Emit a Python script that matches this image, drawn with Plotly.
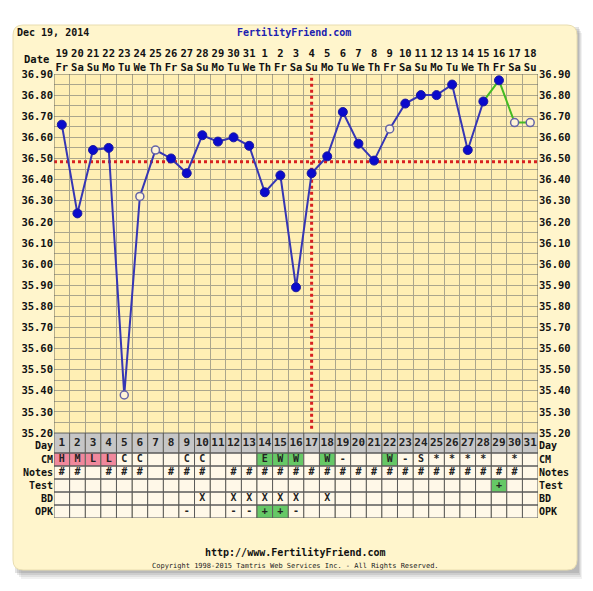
import plotly.graph_objects as go

# ---------------- data ----------------
dates = ["19", "20", "21", "22", "23", "24", "25", "26", "27", "28", "29", "30", "31",
         "1", "2", "3", "4", "5", "6", "7", "8", "9", "10", "11", "12", "13", "14", "15", "16", "17", "18"]
weekdays = ["Fr", "Sa", "Su", "Mo", "Tu", "We", "Th"] * 4 + ["Fr", "Sa", "Su"]
cycle_days = list(range(1, 32))
temps = [36.66, 36.24, 36.54, 36.55, 35.38, 36.32, 36.54, 36.50, 36.43, 36.61,
         36.58, 36.60, 36.56, 36.34, 36.42, 35.89, 36.43, 36.51, 36.72, 36.57,
         36.49, 36.64, 36.76, 36.80, 36.80, 36.85, 36.54, 36.77, 36.87, 36.67, 36.67]
hollow_days = [5, 6, 7, 22, 30, 31]
last_charted_day = 28
coverline = 36.485
ovulation_day = 17

cm = ["H", "M", "L", "L", "C", "C", "", "", "C", "C", "", "", "", "E", "W", "W",
      "", "W", "-", "", "", "W", "-", "S", "*", "*", "*", "*", "", "*", ""]
notes = ["#", "#", "", "#", "#", "#", "", "#", "#", "#", "", "#", "#", "#", "#", "#",
         "#", "#", "#", "#", "#", "#", "#", "#", "#", "#", "#", "#", "#", "#", ""]
test = [""] * 28 + ["+", "", ""]
bd = ["", "", "", "", "", "", "", "", "", "X", "", "X", "X", "X", "X", "X",
      "", "X", "", "", "", "", "", "", "", "", "", "", "", "", ""]
opk = ["", "", "", "", "", "", "", "", "-", "", "", "-", "-", "+", "+", "-",
       "", "", "", "", "", "", "", "", "", "", "", "", "", "", ""]
row_names = ["Day", "CM", "Notes", "Test", "BD", "OPK"]
row_values = [[str(d) for d in cycle_days], cm, notes, test, bd, opk]
temp_ticks = [round(35.2 + 0.1 * i, 2) for i in range(18)]

# ---------------- styles ----------------
OFF = 8  # page body margin
W, H = 585, 583
L, R, T, B = 46, 55, 66, 73
PW, PH = W - L - R, H - T - B
row_heights = [20, 13, 13, 13, 13, 13]
table_h = sum(row_heights)
split = table_h / PH
MONO = "DejaVu Sans Mono"
BOX = "#FFF5CC"
PLOTBG = "#FFEFB4"
GRID = "#ABA68C"
BORDER = "#5A5A5A"
CREAM = "#FFF8E8"
DAYBG = "#C6C6C6"
PINK = "#F0889C"
GREEN = "#66C866"
BLUE = "#0A0ACC"
LINEBLUE = "#3636B4"
RED = "#D82020"


def px_x(px):
    return (px - OFF - L) / PW


def px_y(py):
    return (H - B - (py - OFF)) / PH


# row boundaries in y2 units (top to bottom)
bounds = []
top = table_h
for h in row_heights:
    bounds.append((top - h, top))
    top -= h
centers = [(a + b) / 2 for a, b in bounds]
label_pos = [centers[0] - 2.5] + centers[1:]

fig = go.Figure()
shapes = []

# shadow + rounded box
for off, op in [(8, 0.08), (6, 0.10), (4, 0.13), (2, 0.16)]:
    x0, x1 = px_x(13 + off), px_x(578 + off / 2)
    y0, y1 = px_y(571 + off), px_y(25 + off)
    shapes.append(dict(type="rect", xref="paper", yref="paper", x0=x0, x1=x1, y0=y0, y1=y1,
                       fillcolor=f"rgba(80,80,80,{op})", line=dict(width=0), layer="below"))
x0, x1 = px_x(13), px_x(577)
y0, y1 = px_y(570), px_y(25)
rx, ry = 10 / PW, 10 / PH
path = (f"M {x0+rx},{y1} L {x1-rx},{y1} Q {x1},{y1} {x1},{y1-ry} L {x1},{y0+ry} "
        f"Q {x1},{y0} {x1-rx},{y0} L {x0+rx},{y0} Q {x0},{y0} {x0},{y0+ry} "
        f"L {x0},{y1-ry} Q {x0},{y1} {x0+rx},{y1} Z")
shapes.append(dict(type="path", xref="paper", yref="paper", path=path,
                   fillcolor=BOX, line=dict(color="#E8DDB0", width=1), layer="below"))

# temperature plot background
shapes.append(dict(type="rect", xref="x", yref="y", x0=0.5, x1=31.5, y0=35.2, y1=36.9,
                   fillcolor=PLOTBG, line=dict(width=0), layer="below"))

# table cells
for r, (name, vals) in enumerate(zip(row_names, row_values)):
    ya, yb = bounds[r]
    for d, v in zip(cycle_days, vals):
        if name == "Day":
            col = DAYBG
        elif name == "CM" and v in ("H", "M", "L"):
            col = PINK
        elif name == "CM" and v in ("E", "W"):
            col = GREEN
        elif name in ("Test", "OPK") and v == "+":
            col = GREEN
        else:
            col = CREAM
        shapes.append(dict(type="rect", xref="x", yref="y2", x0=d - 0.5, x1=d + 0.5,
                           y0=ya, y1=yb, fillcolor=col, line=dict(width=0), layer="below"))
# table borders
for d in range(0, 32):
    shapes.append(dict(type="line", xref="x", yref="y2", x0=d + 0.5, x1=d + 0.5,
                       y0=0, y1=table_h, line=dict(color=BORDER, width=1), layer="above"))
for ya, yb in bounds:
    for yy in (ya, yb):
        shapes.append(dict(type="line", xref="x", yref="y2", x0=0.5, x1=31.5,
                           y0=yy, y1=yy, line=dict(color=BORDER, width=1), layer="above"))
# temperature frame
shapes.append(dict(type="rect", xref="x", yref="y", x0=0.5, x1=31.5, y0=35.2, y1=36.9,
                   line=dict(color="#6A6A60", width=1), layer="above"))

# coverline / ovulation line
fig.add_trace(go.Scatter(x=[0.5, 31.5], y=[coverline, coverline], mode="lines",
                         line=dict(color=RED, width=3, dash="dot"), hoverinfo="skip",
                         xaxis="x", yaxis="y"))
fig.add_trace(go.Scatter(x=[ovulation_day, ovulation_day], y=[35.22, 36.9], mode="lines",
                         line=dict(color=RED, width=3, dash="dot"), hoverinfo="skip",
                         xaxis="x", yaxis="y"))

# temperature lines
n = last_charted_day
fig.add_trace(go.Scatter(x=cycle_days[n - 1:], y=temps[n - 1:], mode="lines",
                         line=dict(color="#44BB22", width=2), xaxis="x", yaxis="y"))
fig.add_trace(go.Scatter(x=cycle_days[:n], y=temps[:n], mode="lines",
                         line=dict(color=LINEBLUE, width=2), xaxis="x", yaxis="y"))
filled = [d for d in cycle_days if d not in hollow_days]
fig.add_trace(go.Scatter(x=filled, y=[temps[d - 1] for d in filled], mode="markers",
                         marker=dict(color=BLUE, size=9, line=dict(color="#1A1AA0", width=1)),
                         xaxis="x", yaxis="y"))
fig.add_trace(go.Scatter(x=hollow_days, y=[temps[d - 1] for d in hollow_days], mode="markers",
                         marker=dict(color="#FFF4D8", size=8, line=dict(color="#6464A8", width=1.5)),
                         xaxis="x", yaxis="y"))

# table text
for r, (name, vals) in enumerate(zip(row_names, row_values)):
    fig.add_trace(go.Scatter(x=cycle_days, y=[centers[r]] * 31, mode="text", text=vals,
                             textposition="middle center",
                             textfont=dict(family=MONO, size=11 if name == "Day" else 10,
                                           color="#222222", weight="bold"),
                             xaxis="x", yaxis="y2", hoverinfo="skip"))

tickfont = dict(family=MONO, size=10.5, color="#111111", weight="bold")
rowfont = dict(family=MONO, size=10, color="#111111", weight="bold")
hdrfont = dict(family=MONO, size=10, color="#111111", weight="bold")
annotations = [
    dict(text="Dec 19, 2014", x=px_x(15), y=px_y(33), xref="paper", yref="paper",
         xanchor="left", yanchor="middle", showarrow=False, font=hdrfont),
    dict(text="FertilityFriend.com", x=px_x(294), y=px_y(33), xref="paper", yref="paper",
         xanchor="center", yanchor="middle", showarrow=False,
         font=dict(family=MONO, size=10, color="#2020B0", weight="bold")),
    dict(text="Date", x=px_x(51), y=px_y(59), xref="paper", yref="paper",
         xanchor="right", yanchor="middle", showarrow=False, font=tickfont),
    dict(text="http://www.FertilityFriend.com", x=px_x(295), y=px_y(552), xref="paper", yref="paper",
         xanchor="center", yanchor="middle", showarrow=False, font=hdrfont),
    dict(text="Copyright 1998-2015 Tamtris Web Services Inc. - All Rights Reserved.",
         x=px_x(295), y=px_y(566), xref="paper", yref="paper",
         xanchor="center", yanchor="middle", showarrow=False,
         font=dict(family=MONO, size=7, color="#222222")),
]

fig.update_layout(
    width=W, height=H, margin=dict(l=L, r=R, t=T, b=B),
    paper_bgcolor="white", plot_bgcolor="rgba(0,0,0,0)",
    showlegend=False, shapes=shapes, annotations=annotations,
    xaxis=dict(domain=[0, 1], range=[0.5, 31.5], anchor="y", tick0=0.5, dtick=1,
               showgrid=True, gridcolor=GRID, gridwidth=1, showticklabels=False,
               zeroline=False, ticks="", showline=False),
    xaxis2=dict(overlaying="x", side="top", anchor="y", range=[0.5, 31.5],
                tickmode="array", tickvals=cycle_days,
                ticktext=[f"{d}<br>{w}" for d, w in zip(dates, weekdays)],
                showgrid=False, zeroline=False, ticks="", tickfont=tickfont, tickangle=0),
    yaxis=dict(domain=[split, 1], range=[35.2, 36.9], anchor="x", tickmode="array",
               tickvals=temp_ticks, ticktext=[f"{t:.2f}" for t in temp_ticks],
               showgrid=True, gridcolor=GRID, gridwidth=1, zeroline=False, ticks="",
               tickfont=tickfont,
               minor=dict(dtick=0.05, tick0=35.2, showgrid=True, gridcolor=GRID, gridwidth=1)),
    yaxis3=dict(overlaying="y", side="right", anchor="x", range=[35.2, 36.9], tickmode="array",
                tickvals=temp_ticks, ticktext=[f"{t:.2f}" for t in temp_ticks],
                showgrid=False, zeroline=False, ticks="", tickfont=tickfont),
    yaxis2=dict(domain=[0, split], range=[0, table_h], anchor="x", tickmode="array",
                tickvals=label_pos, ticktext=row_names, showgrid=False, zeroline=False,
                ticks="", tickfont=rowfont),
    yaxis4=dict(overlaying="y2", side="right", anchor="x", range=[0, table_h], tickmode="array",
                tickvals=label_pos, ticktext=row_names, showgrid=False, zeroline=False,
                ticks="", tickfont=rowfont),
)
# attach axes for x2 / y3 / y4 via invisible traces
fig.add_trace(go.Scatter(x=[1], y=[36.0], xaxis="x2", yaxis="y3", mode="markers",
                         marker=dict(opacity=0), hoverinfo="skip"))
fig.add_trace(go.Scatter(x=[1], y=[10], xaxis="x", yaxis="y4", mode="markers",
                         marker=dict(opacity=0), hoverinfo="skip"))

fig.write_html("out.html")
